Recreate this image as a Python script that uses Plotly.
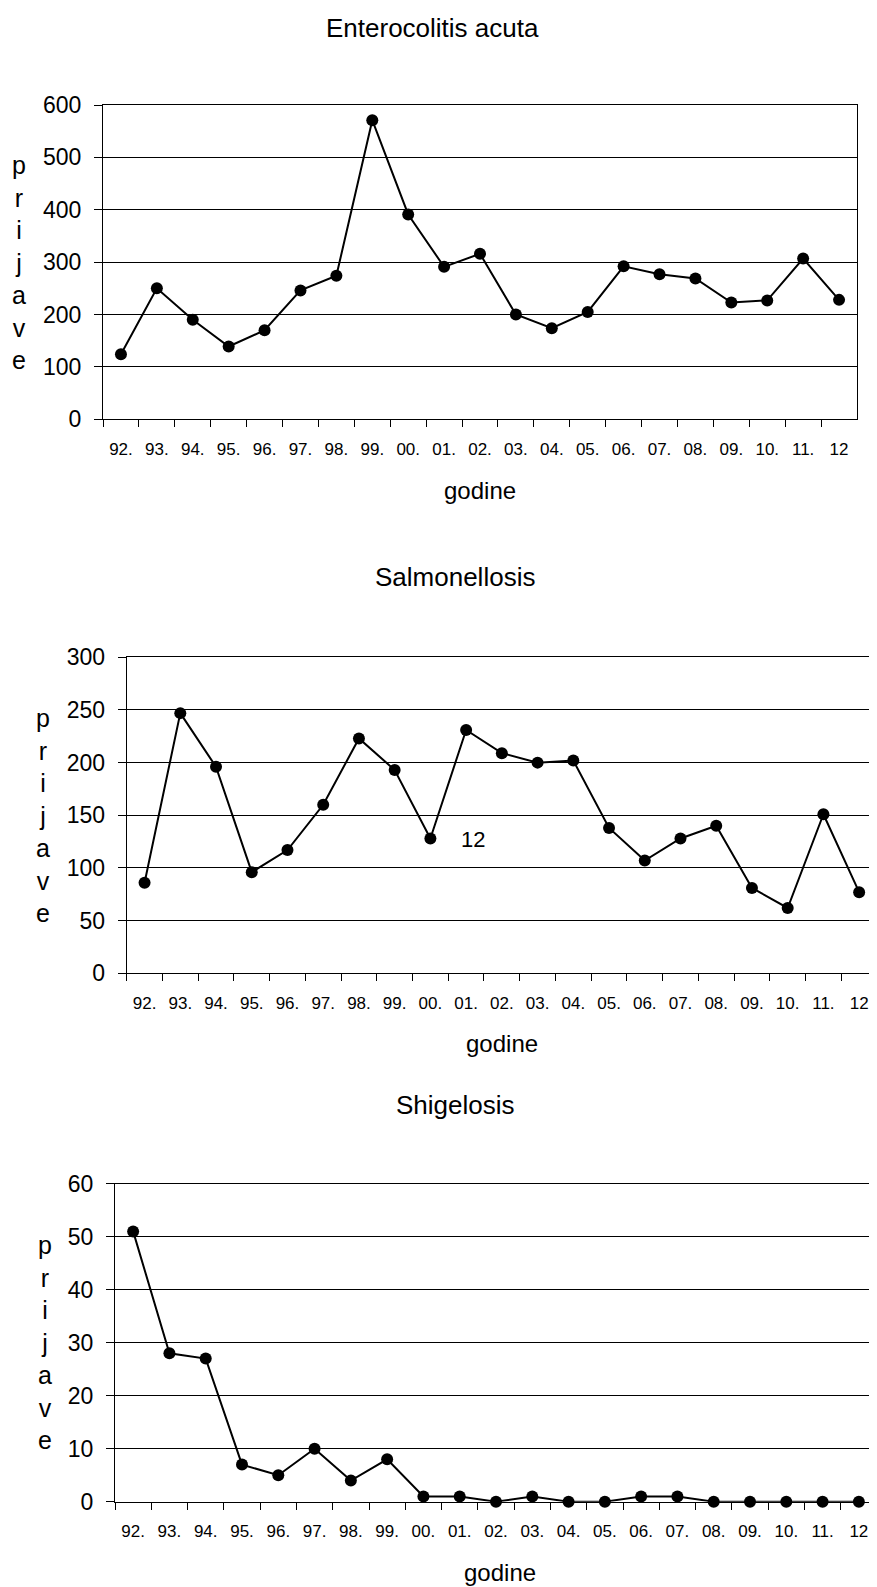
import plotly.graph_objects as go

# The page body adds an 8px margin, so the figure is drawn 8px smaller and all
# pixel targets below are shifted by that offset.
OFF = 8
W, H = 877 - OFF, 1587 - OFF

years = ["92.", "93.", "94.", "95.", "96.", "97.", "98.", "99.", "00.", "01.", "02.",
         "03.", "04.", "05.", "06.", "07.", "08.", "09.", "10.", "11.", "12"]
entero = [124, 250, 190, 139, 170, 246, 274, 571, 391, 291, 316, 200, 174, 205, 292,
          277, 269, 223, 227, 307, 228]
salmo = [86, 247, 196, 96, 117, 160, 223, 193, 128, 231, 209, 200, 202, 138, 107,
         128, 140, 81, 62, 151, 77]
shig = [51, 28, 27, 7, 5, 10, 4, 8, 1, 1, 0, 1, 0, 0, 1, 1, 0, 0, 0, 0, 0]

titles = ["Enterocolitis acuta", "Salmonellosis", "Shigelosis"]
y_ranges = [[0, 600], [0, 300], [0, 60]]
y_dticks = [100, 50, 10]
x_title = "godine"
y_title = "p<br>r<br>i<br>j<br>a<br>v<br>e"

FONT = "Liberation Sans, Arial, sans-serif"

# plot areas in page pixels: (left, right, top, bottom)
boxes = [(103, 857, 105, 419.3), (126.7, 877, 657.3, 973.3), (115, 877, 1183.7, 1501.7)]
title_pos = [(432, 28), (455, 577), (455, 1105)]
xtitle_pos = [(480, 490), (502, 1043), (500, 1572)]
ytitle_x = [19, 43, 45]

def px(x):
    return min(max((x - OFF) / W, 0.0), 1.0)

def py(y):
    return min(max(1 - (y - OFF) / H, 0.0), 1.0)

fig = go.Figure()
series = [entero, salmo, shig]
annotations = []
for i, vals in enumerate(series):
    xa = "x" if i == 0 else f"x{i+1}"
    ya = "y" if i == 0 else f"y{i+1}"
    fig.add_trace(go.Scatter(
        x=years, y=vals, xaxis=xa, yaxis=ya, mode="lines+markers",
        line=dict(color="black", width=2),
        marker=dict(color="black", size=12, symbol="circle"),
        cliponaxis=False, showlegend=False,
    ))
    l, r, t, b = boxes[i]
    xkey = "xaxis" if i == 0 else f"xaxis{i+1}"
    ykey = "yaxis" if i == 0 else f"yaxis{i+1}"
    fig.layout[xkey] = dict(
        domain=[px(l), px(r)], anchor=ya, type="category",
        categoryorder="array", categoryarray=years,
        range=[-0.5, len(years) - 0.5], autorange=False,
        tickson="boundaries", ticks="outside", ticklen=7, tickcolor="black",
        tickwidth=1, showline=True, linecolor="black", linewidth=1,
        mirror=True, showgrid=False, zeroline=False, automargin=False,
        tickfont=dict(family=FONT, size=17, color="black"),
        ticklabelstandoff=14, fixedrange=True,
    )
    fig.layout[ykey] = dict(
        domain=[py(b), py(t)], anchor=xa, range=y_ranges[i], autorange=False,
        dtick=y_dticks[i], tick0=0, ticks="outside", ticklen=8, tickcolor="black",
        tickwidth=1, showline=True, linecolor="black", linewidth=1, showgrid=True,
        gridcolor="black", gridwidth=1, zeroline=False, automargin=False,
        mirror=(i == 0),
        tickfont=dict(family=FONT, size=23, color="black"),
        ticklabelstandoff=8, fixedrange=True,
    )
    tx, ty = title_pos[i]
    annotations.append(dict(text=titles[i], x=px(tx), y=py(ty), xref="paper", yref="paper",
                            xanchor="center", yanchor="middle", showarrow=False,
                            font=dict(family=FONT, size=26, color="black")))
    gx, gy = xtitle_pos[i]
    annotations.append(dict(text=x_title, x=px(gx), y=py(gy), xref="paper", yref="paper",
                            xanchor="center", yanchor="middle", showarrow=False,
                            font=dict(family=FONT, size=24, color="black")))
    annotations.append(dict(text=y_title, x=px(ytitle_x[i]), y=py((t + b) / 2),
                            xref="paper", yref="paper", xanchor="center", yanchor="middle",
                            showarrow=False,
                            font=dict(family=FONT, size=25, color="black")))

# stray label inside the Salmonellosis chart
annotations.append(dict(text="12", x=px(472.7), y=py(840), xref="paper", yref="paper",
                        xanchor="center", yanchor="middle", showarrow=False,
                        font=dict(family=FONT, size=22, color="black")))

fig.update_layout(
    template="none",
    width=W, height=H, margin=dict(l=0, r=0, t=0, b=0, pad=0, autoexpand=False),
    paper_bgcolor="white", plot_bgcolor="white",
    annotations=annotations,
    font=dict(family=FONT, color="black"),
    showlegend=False,
)

fig.write_html("out.html")
